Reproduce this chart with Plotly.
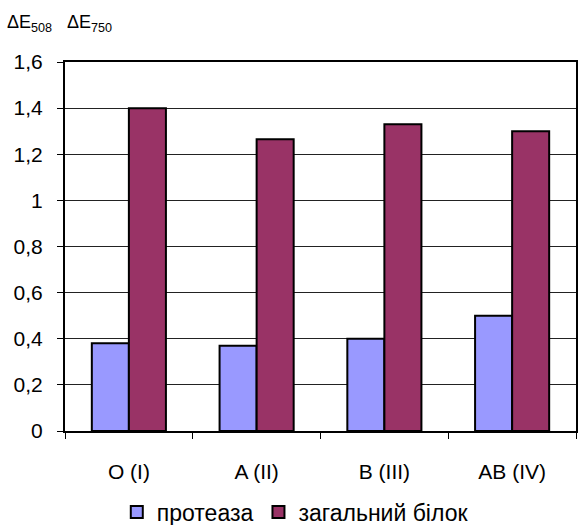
import plotly.graph_objects as go

# Blood groups and measured optical densities
groups = ["O (I)", "A (II)", "B (III)", "AB (IV)"]
protease = [0.38, 0.37, 0.40, 0.50]
total_protein = [1.40, 1.265, 1.33, 1.30]
y_ticks = [0, 0.2, 0.4, 0.6, 0.8, 1.0, 1.2, 1.4, 1.6]

FONT = "Liberation Sans, Arial, sans-serif"

fig = go.Figure()
fig.add_trace(go.Bar(
    x=groups, y=protease, name="протеаза",
    marker=dict(color="#9999FF", line=dict(color="black", width=2)),
))
fig.add_trace(go.Bar(
    x=groups, y=total_protein, name="загальний білок",
    marker=dict(color="#993366", line=dict(color="black", width=2)),
))

fig.update_layout(
    width=579, height=525,
    margin=dict(l=65, r=1, t=62, b=94),
    paper_bgcolor="white", plot_bgcolor="white",
    separators=", ",
    barmode="group", bargap=0.42, bargroupgap=0,
    font=dict(family=FONT, size=21, color="black"),
    title=dict(
        text="ΔE<sub>508</sub>\u00a0\u00a0\u00a0ΔE<sub>750</sub>",
        font=dict(family=FONT, size=18, color="black"),
        xref="container", yref="container",
        x=7 / 579, xanchor="left", y=1 - 22 / 525, yanchor="middle",
    ),
    legend=dict(
        orientation="h", xref="container", yref="container",
        x=0.51, xanchor="center", y=1 - 512 / 525, yanchor="middle",
        font=dict(family=FONT, size=23), itemwidth=30,
        tracegroupgap=0,
    ),
    showlegend=True,
)

fig.update_xaxes(
    showline=True, linecolor="black", linewidth=2, mirror=True,
    ticks="outside", ticklen=6, tickcolor="black", tickwidth=1,
    tickson="boundaries", ticklabelstandoff=21,
    tickfont=dict(family=FONT, size=21),
    showgrid=False,
)
fig.update_yaxes(
    range=[0, 1.6], tickvals=y_ticks,
    showline=True, linecolor="black", linewidth=2, mirror=True,
    ticks="outside", ticklen=6, tickcolor="black", tickwidth=1,
    ticklabelstandoff=10,
    showgrid=True, gridcolor="#222222", gridwidth=1,
    zeroline=False,
    tickfont=dict(family=FONT, size=21),
)

fig.write_html("out.html")
